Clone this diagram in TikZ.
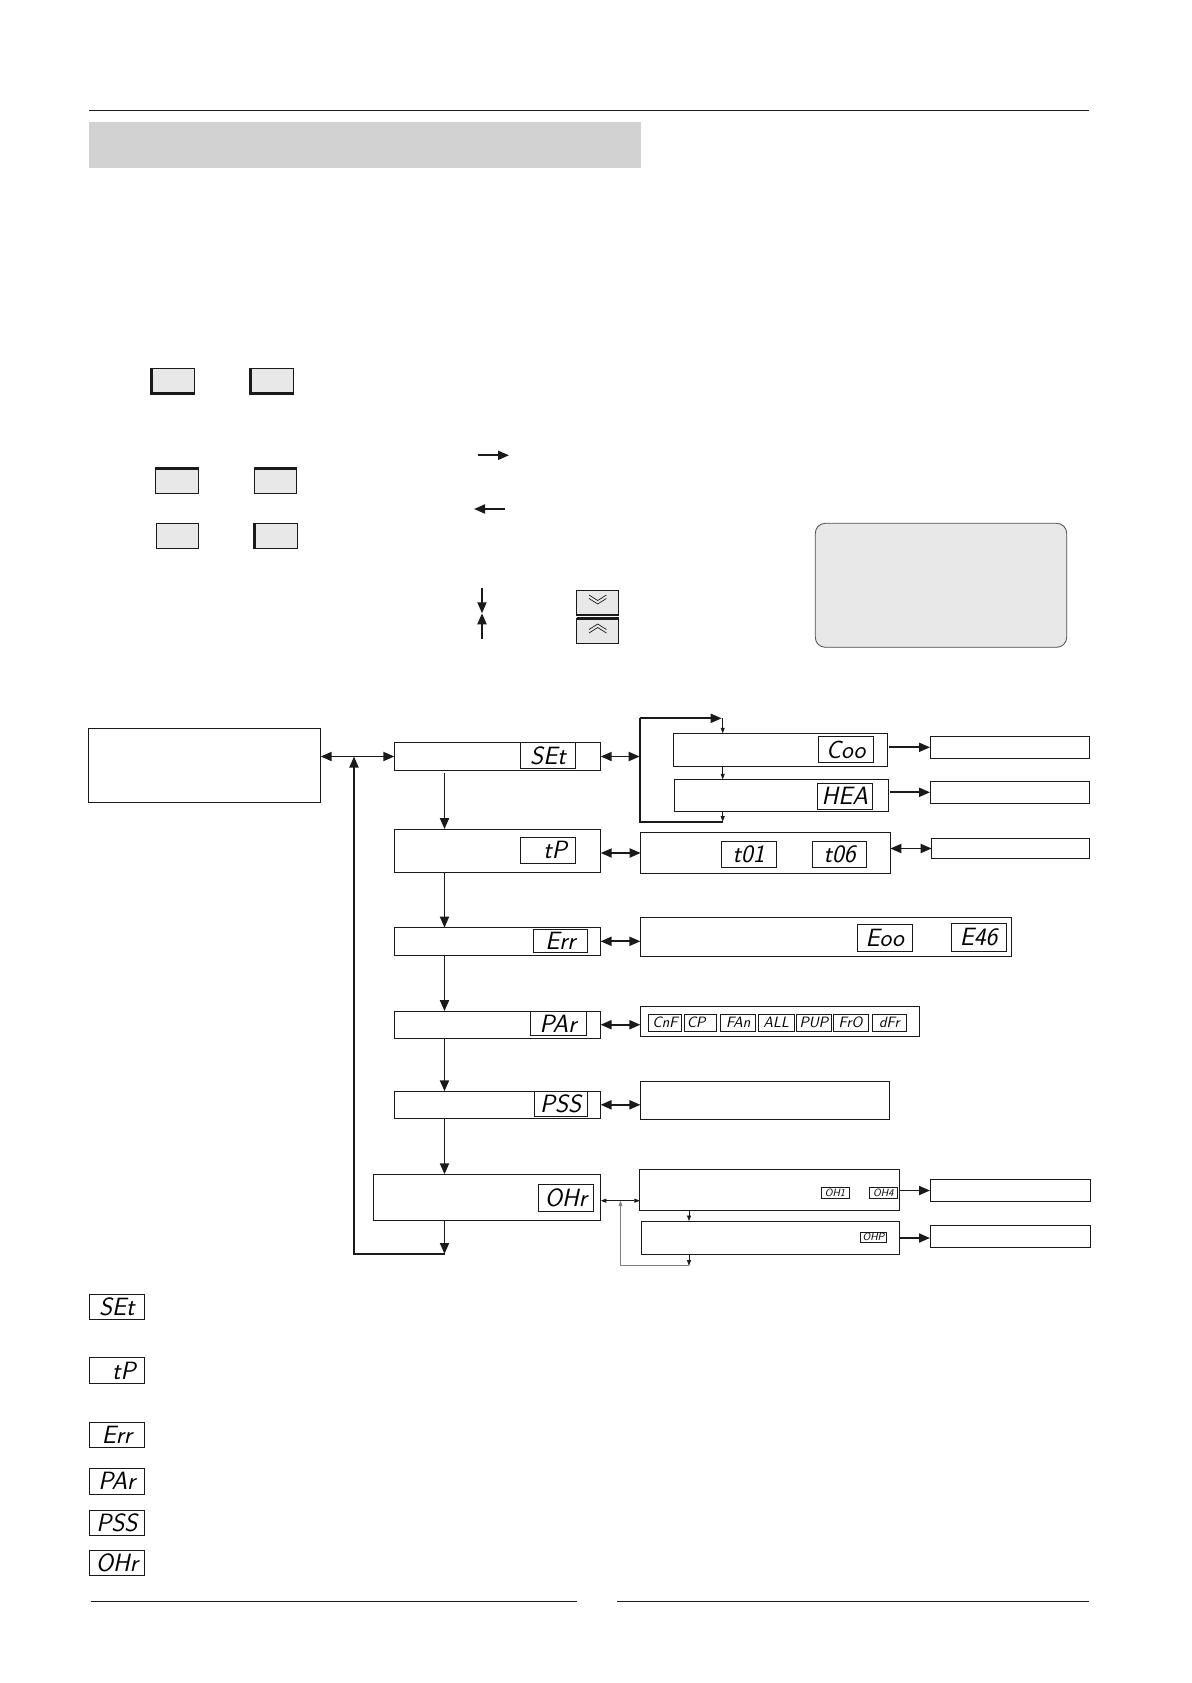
\documentclass[tikz,border=0pt]{standalone}
\usepackage{fontspec}
\usetikzlibrary{arrows.meta}
\definecolor{btn}{HTML}{E8E8E8}
\definecolor{bar}{HTML}{D2D2D2}
\definecolor{ink}{HTML}{1A1A1A}
\tikzset{
  box/.style={draw=ink, line width=0.9pt, inner sep=0pt, outer sep=0pt, rectangle},
  disp/.style={box, font=\sffamily\slshape\fontsize{25}{25}\selectfont},
  sdisp/.style={box, line width=0.7pt, font=\sffamily\slshape\fontsize{15}{15}\selectfont},
  tdisp/.style={box, line width=0.6pt, font=\sffamily\slshape\fontsize{10.5}{10.5}\selectfont},
  btnbox/.style={draw=ink, fill=btn, line width=0.8pt, inner sep=0pt, outer sep=0pt, rectangle},
  shadow/.style={draw=ink, line width=2.4pt},
  lin/.style={draw=ink, line width=1.9pt},
  arr/.style={draw=ink, line width=1.9pt, -{Triangle[length=11pt,width=9pt]}},
  dbl/.style={draw=ink, line width=1.9pt, {Triangle[length=11pt,width=9pt]}-{Triangle[length=11pt,width=9pt]}},
  tarr/.style={draw=ink, line width=0.7pt, -{Triangle[length=5.5pt,width=4pt]}},
  tdbl/.style={draw=ink, line width=0.7pt, {Triangle[length=5.5pt,width=4pt]}-{Triangle[length=5.5pt,width=4pt]}},
  chev/.style={draw=ink, line width=0.7pt}
}
\begin{document}
\begin{tikzpicture}[x=1pt,y=-1pt]
\useasboundingbox (0,0) rectangle (1191,1683);
% header
\draw[ink, line width=1.2pt] (89,110.3) -- (1089,110.3);
\fill[bar] (89,122) rectangle (641,168);
% buttons
\node[btnbox, minimum width=43.4, minimum height=25] (b1) at (173,380.8) {};
\draw[shadow] (b1.north west) -- (b1.south west) -- (b1.south east);
\node[btnbox, minimum width=43.4, minimum height=25] (b2) at (272,380.8) {};
\draw[shadow] (b2.north west) -- (b2.south west) -- (b2.south east);
\node[btnbox, minimum width=43.4, minimum height=25.4] (b3) at (177,481) {};
\draw[shadow] (b3.north west) -- (b3.north east);
\node[btnbox, minimum width=42.4, minimum height=25.4] (b4) at (275.5,481) {};
\draw[shadow] (b4.north west) -- (b4.north east);
\node[btnbox, minimum width=42.4, minimum height=25.4] (b5) at (177.5,536) {};
\node[btnbox, minimum width=43.4, minimum height=25.4] (b6) at (276,536) {};
\draw[shadow] (b6.north west) -- (b6.south west);
\node[btnbox, minimum width=42, minimum height=24.7] (bd) at (597.7,602.7) {};
\draw[shadow] (bd.south west) -- (bd.south east);
\node[btnbox, minimum width=42, minimum height=25.4] (bu) at (597.7,631) {};
\draw[shadow] (bu.north west) -- (bu.north east);
\draw[chev] (589,595) -- (597.7,600.5) -- (606.4,595);
\draw[chev] (589,598.5) -- (597.7,604) -- (606.4,598.5);
\draw[chev] (589,629.5) -- (597.7,624) -- (606.4,629.5);
\draw[chev] (589,633) -- (597.7,627.5) -- (606.4,633);
% legend arrows
\coordinate (la1) at (478,455.3); \coordinate (la2) at (509,455.3);
\draw[arr] (la1) -- (la2);
\coordinate (lb1) at (505,509); \coordinate (lb2) at (474,509);
\draw[arr] (lb1) -- (lb2);
\coordinate (lc1) at (482,588.3); \coordinate (lc2) at (482,613.3); \coordinate (lc3) at (482,638.7);
\draw[arr] (lc1) -- (lc2);
\draw[arr] (lc3) -- (lc2);
% note box
\node[draw=gray!60!black, fill=btn, rounded corners=10pt, line width=0.8pt, minimum width=251.4, minimum height=124, inner sep=0pt] (note) at (941,585.3) {};
% main column
\node[box, minimum width=231.8, minimum height=74] (left) at (204.8,765.3) {};
\node[box, minimum width=206.4, minimum height=28.4] (SET) at (497.5,756.5) {};
\node[disp, minimum width=55.3, minimum height=26.4] (dSET) at (548,755.5) {SEt};
\node[box, minimum width=206.4, minimum height=43.3] (TP) at (497.5,850.7) {};
\node[disp, minimum width=55.3, minimum height=26.7] (dTP) at (548,850.3) {\hphantom{E}tP};
\node[box, minimum width=206.1, minimum height=27.3] (ERR) at (497.5,941.3) {};
\node[disp, minimum width=53.9, minimum height=23.3] (dERR) at (560.3,940.7) {Err};
\node[box, minimum width=206.1, minimum height=27.3] (PAR) at (497.5,1024.7) {};
\node[disp, minimum width=56, minimum height=23.6] (dPAR) at (558,1023.5) {PAr};
\node[box, minimum width=206.1, minimum height=27] (PSS) at (497.5,1104.8) {};
\node[disp, minimum width=53.1, minimum height=25] (dPSS) at (560.7,1104.2) {PSS};
\node[box, minimum width=227.5, minimum height=46] (OHR) at (487,1197.3) {};
\node[disp, minimum width=54.7, minimum height=27] (dOHR) at (565.8,1197.8) {OHr};
% right side
\node[box, minimum width=214, minimum height=33] (COO) at (780.3,749.8) {};
\node[disp, minimum width=55, minimum height=25.6] (dCOO) at (845.8,749.5) {Coo};
\node[box, minimum width=214.3, minimum height=31.7] (HEA) at (781.2,795.2) {};
\node[disp, minimum width=55, minimum height=25.7] (dHEA) at (844.8,796.2) {HEA};
\node[box, minimum width=159.3, minimum height=22] (R1) at (1009.7,747.3) {};
\node[box, minimum width=159.3, minimum height=22] (R2) at (1009.7,792.3) {};
\node[box, minimum width=249.6, minimum height=40.6] (TPR) at (765.5,853) {};
\node[disp, minimum width=55.3, minimum height=25.6] (dT01) at (748.7,854.5) {t01};
\node[disp, minimum width=54.4, minimum height=25.6] (dT06) at (839.5,854.5) {t06};
\node[box, minimum width=157.6, minimum height=19.6] (R3) at (1010.5,848.5) {};
\node[box, minimum width=371, minimum height=39.4] (ERRR) at (825.9,937) {};
\node[disp, minimum width=54.4, minimum height=27] (dEOO) at (884.8,937.5) {Eoo};
\node[disp, minimum width=54.7, minimum height=27.7] (dE46) at (978.7,937.3) {E46};
\node[box, minimum width=279.4, minimum height=30.7] (PARR) at (780.1,1021.3) {};
\node[sdisp, minimum width=32.7, minimum height=17] (dCNF) at (665,1022.5) {CnF};
\node[sdisp, minimum width=31.9, minimum height=17] (dCP) at (699.9,1022.5) {CP\hphantom{n}};
\node[sdisp, minimum width=34.8, minimum height=17] (dFAN) at (738.2,1022.5) {FAn};
\node[sdisp, minimum width=35.3, minimum height=17] (dALL) at (776.2,1022.5) {ALL};
\node[sdisp, minimum width=34.4, minimum height=17] (dPUP) at (813.9,1022.5) {PUP};
\node[sdisp, minimum width=34.9, minimum height=17] (dFRO) at (850.6,1022.5) {FrO};
\node[sdisp, minimum width=34.4, minimum height=17] (dDFR) at (889.3,1022.5) {dFr};
\node[box, minimum width=248.7, minimum height=37.3] (PSSR) at (764.8,1100.3) {};
\node[box, minimum width=259.6, minimum height=41.7] (OHB) at (769.6,1189.8) {};
\node[tdisp, minimum width=27.9, minimum height=11] (dOH1) at (835,1192.8) {OH1};
\node[tdisp, minimum width=27.3, minimum height=11] (dOH4) at (883.3,1192.8) {OH4};
\node[box, minimum width=257.7, minimum height=33.3] (OHP) at (770.5,1237.7) {};
\node[tdisp, minimum width=26.5, minimum height=10] (dOHP) at (873.5,1237.3) {OHP};
\node[box, minimum width=160, minimum height=22.4] (R4) at (1010,1190.5) {};
\node[box, minimum width=160, minimum height=22.4] (R5) at (1010,1236.5) {};
% connectors main column
\coordinate (vx) at (444.5,0);
\draw[dbl] (SET.west -| left.east) -- (SET.west);
\draw[arr] ([yshift=-2.5pt]SET.south -| vx) -- (TP.north -| vx);
\draw[arr] (TP.south -| vx) -- (ERR.north -| vx);
\draw[arr] (ERR.south -| vx) -- (PAR.north -| vx);
\draw[arr] (PAR.south -| vx) -- (PSS.north -| vx);
\draw[arr] (PSS.south -| vx) -- (OHR.north -| vx);
\coordinate (r1) at (444.5,1254);
\coordinate (r2) at (354,1254);
\draw[arr] (OHR.south -| r1) -- (r1);
\draw[arr] (r1) -- (r2) -- (r2 |- SET.west);
% SET branch
\coordinate (bk1) at (639.7,718.3);
\coordinate (bk2) at (639.7,821.7);
\coordinate (sx) at (722.7,0);
\draw[dbl] (SET.east) -- (SET.east -| bk1);
\draw[lin] (bk1) -- (bk2) -- (bk2 -| sx);
\draw[arr] (bk1) -- ([xshift=-1pt]bk1 -| sx);
\draw[tarr] (bk1 -| sx) -- (COO.north -| sx);
\draw[tarr] (COO.south -| sx) -- (HEA.north -| sx);
\draw[tarr] (HEA.south -| sx) -- (bk2 -| sx);
\draw[arr] ([xshift=1.5pt]R1.west -| COO.east) -- (R1.west);
\draw[arr] ([xshift=2pt]R2.west -| HEA.east) -- (R2.west);
% other branches
\draw[dbl] (TPR.west -| TP.east) -- (TPR.west);
\draw[dbl] (R3.west -| TPR.east) -- (R3.west);
\draw[dbl] (ERR.east) -- (ERR.east -| ERRR.west);
\draw[dbl] (PAR.east) -- (PAR.east -| PARR.west);
\draw[dbl] (PSS.east) -- (PSS.east -| PSSR.west);
% OHr branch
\coordinate (oy) at (0,1200.7);
\coordinate (ox) at (689,0);
\coordinate (g1) at (689,1265.7);
\coordinate (g2) at (620.5,1265.7);
\draw[tdbl] (OHR.east |- oy) -- (OHB.west |- oy);
\draw[gray, line width=0.7pt, -{Triangle[length=5.5pt,width=4pt]}] (g1) -- (g2) -- (g2 |- oy);
\draw[tarr] (OHB.south -| ox) -- (OHP.north -| ox);
\draw[tarr] (OHP.south -| ox) -- (g1);
\draw[arr] (R4.west -| OHB.east) -- (R4.west);
\draw[arr] ([yshift=-1.5pt]R5.west -| OHP.east) -- ([yshift=-1.5pt]R5.west);
% legend displays
\node[disp, minimum width=55, minimum height=25] (gSET) at (116.8,1306.8) {SEt};
\node[disp, minimum width=55, minimum height=25.6] (gTP) at (116.8,1370.5) {\hphantom{E}tP};
\node[disp, minimum width=55, minimum height=25] (gERR) at (116.8,1434.8) {Err};
\node[disp, minimum width=55, minimum height=26] (gPAR) at (116.8,1481.3) {PAr};
\node[disp, minimum width=55, minimum height=25.3] (gPSS) at (116.8,1522.7) {PSS};
\node[disp, minimum width=55, minimum height=25.3] (gOHR) at (116.8,1562.7) {OHr};
% footer
\draw[ink, line width=1.2pt] (90.7,1601.3) -- (577,1601.3);
\draw[ink, line width=1.2pt] (617.2,1601.3) -- (1089.4,1601.3);
\end{tikzpicture}
\end{document}
